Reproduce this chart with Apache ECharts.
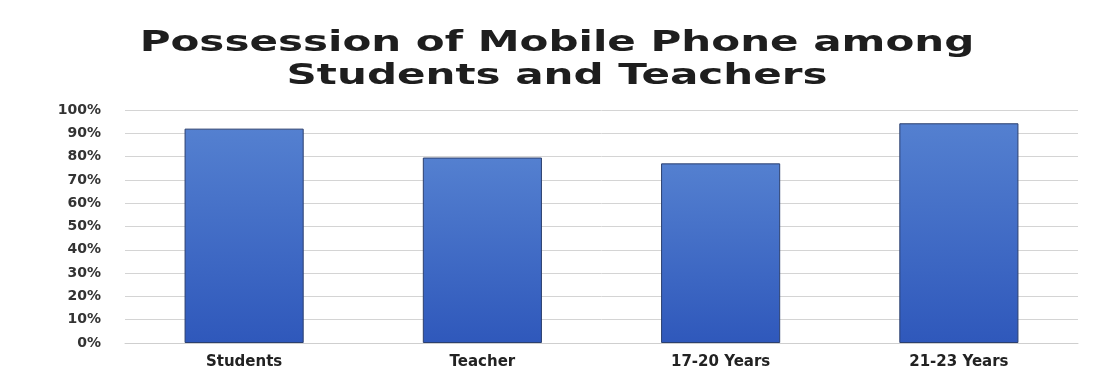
<!DOCTYPE html>
<html><head><meta charset="utf-8">
<script src="https://cdn.jsdelivr.net/npm/echarts@6/dist/echarts.min.js"></script>
<style>html,body{margin:0;padding:0;background:#fff}#c{width:1100px;height:383px}</style>
</head><body><div id="c"></div>
<script>
const categories = ['Students', 'Teacher', '17-20 Years', '21-23 Years'];
const possession = [92, 79.6, 77.1, 94.3];
const yTicks = [0, 10, 20, 30, 40, 50, 60, 70, 80, 90, 100];
const titleText = 'Possession of Mobile Phone among\nStudents and Teachers';

const chart = echarts.init(document.getElementById('c'));
chart.setOption({
  animation: false,
  backgroundColor: '#ffffff',
  graphic: [{
    type: 'text', x: 557, y: 27, scaleX: 1.45,
    style: {
      text: titleText, align: 'center', verticalAlign: 'top',
      fontFamily: 'DejaVu Sans', fontWeight: 'bold', fontSize: 29, lineHeight: 33, fill: '#1e1e1e'
    }
  }],
  grid: { left: 125, right: 22, top: 110, bottom: 40 },
  xAxis: {
    type: 'category', data: categories,
    axisLine: { lineStyle: { color: '#cfcfcf' } },
    axisTick: { show: false },
    axisLabel: { fontFamily: 'DejaVu Sans', fontWeight: 'bold', fontSize: 15, color: '#222', margin: 12 }
  },
  yAxis: {
    type: 'value', min: 0, max: 100, interval: 10,
    axisLine: { show: false }, axisTick: { show: false },
    splitLine: { lineStyle: { color: '#d4d4d4' } },
    axisLabel: { fontFamily: 'DejaVu Sans', fontWeight: 'bold', fontSize: 14, color: '#333', margin: 24, formatter: v => yTicks.includes(v) ? v + '%' : '' }
  },
  series: [{
    type: 'bar', data: possession, barWidth: '50%',
    itemStyle: {
      color: new echarts.graphic.LinearGradient(0, 0, 0, 1, [
        { offset: 0, color: '#5480d0' }, { offset: 1, color: '#2f58bb' }
      ]),
      borderColor: '#2b3f6e', borderWidth: 1
    }
  }]
});
</script></body></html>
